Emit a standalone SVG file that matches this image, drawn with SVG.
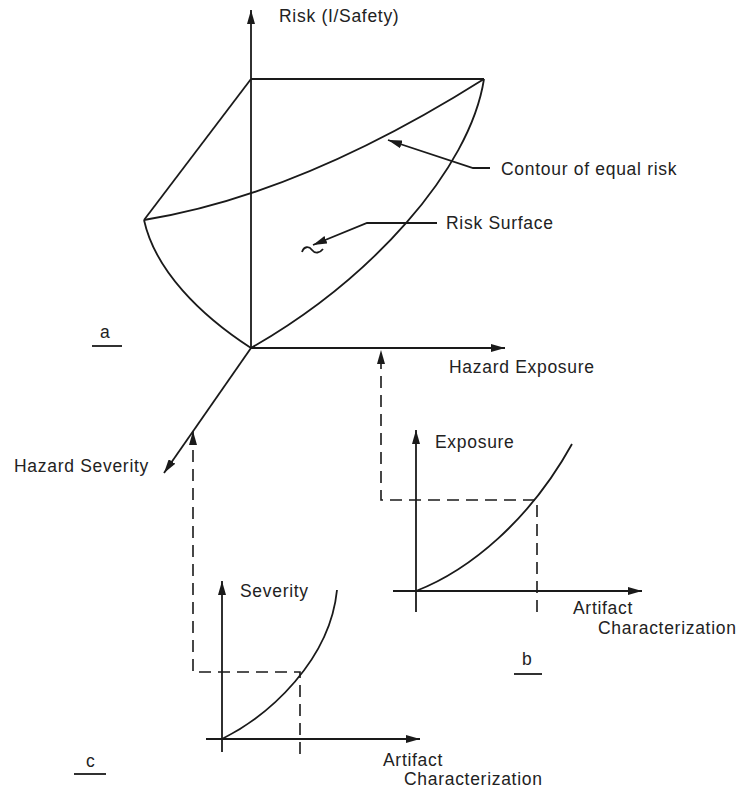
<svg xmlns="http://www.w3.org/2000/svg" width="742" height="789" viewBox="0 0 742 789">
<style>
.ln{fill:none;stroke:#1a1a1a;stroke-width:1.8}
.ds{fill:none;stroke:#1a1a1a;stroke-width:1.6;stroke-dasharray:12,7}
text{font-family:"Liberation Sans",Arial,sans-serif;font-size:17.5px;letter-spacing:0.7px;fill:#222}
</style>
<defs>
<marker id="ah" viewBox="0 0 14 8" refX="14" refY="4" markerWidth="14" markerHeight="8" markerUnits="userSpaceOnUse" orient="auto">
<path d="M0,0 L14,4 L0,8 Z" fill="#1a1a1a"/>
</marker>
</defs>
<rect width="742" height="789" fill="#fff"/>
<g id="connectors">
<path class="ln" d="M251,348 L251,10" marker-end="url(#ah)"/>
<path class="ln" d="M251,348 L505,348" marker-end="url(#ah)"/>
<path class="ln" d="M251,348 L164,473" marker-end="url(#ah)"/>
<path class="ln" d="M490,168 L473,168 L388,140" marker-end="url(#ah)"/>
<path class="ln" d="M437,223 L367,223 L313,245" marker-end="url(#ah)"/>
<path class="ds" d="M537,612 L537,500 L381,500 L381,350" marker-end="url(#ah)"/>
<path class="ds" d="M300,754 L300,672 L193,672 L193,431" marker-end="url(#ah)"/>
</g>
<g id="risk-surface">
<path class="ln" d="M251,79 L484,79"/>
<path class="ln" d="M251,79 L144,220"/>
<path class="ln" d="M144,220 Q300,195 484,79"/>
<path class="ln" d="M484,79 C470,170 370,280 251,348"/>
<path class="ln" d="M144,220 C155,270 200,315 251,348"/>
<path class="ln" d="M302,252 C304,246 309,246 312,250 C315,254 320,253 323,249"/>
</g>
<g id="labels-a">
<text x="279" y="22">Risk (I/Safety)</text>
<text x="501" y="175">Contour of equal risk</text>
<text x="446" y="229">Risk Surface</text>
<text x="449" y="373">Hazard Exposure</text>
<text x="14" y="472">Hazard Severity</text>
<text x="100" y="338">a</text>
<path class="ln" d="M92,346 L122,346"/>
</g>
<g id="graph-b">
<path class="ln" d="M416,612 L416,430" marker-end="url(#ah)"/>
<path class="ln" d="M393,591 L642,591" marker-end="url(#ah)"/>
<path class="ln" d="M416,591 C470,570 530,520 572,444"/>
<text x="435" y="448">Exposure</text>
<text x="573" y="614">Artifact</text>
<text x="598" y="634">Characterization</text>
<text x="522" y="665">b</text>
<path class="ln" d="M514,674 L542,674"/>
</g>
<g id="graph-c">
<path class="ln" d="M222,752 L222,581" marker-end="url(#ah)"/>
<path class="ln" d="M206,739 L420,739" marker-end="url(#ah)"/>
<path class="ln" d="M222,739 C270,715 330,660 337,590"/>
<text x="240" y="597">Severity</text>
<text x="383" y="766">Artifact</text>
<text x="404" y="785">Characterization</text>
<text x="86" y="767">c</text>
<path class="ln" d="M74,774 L106,774"/>
</g>
</svg>
